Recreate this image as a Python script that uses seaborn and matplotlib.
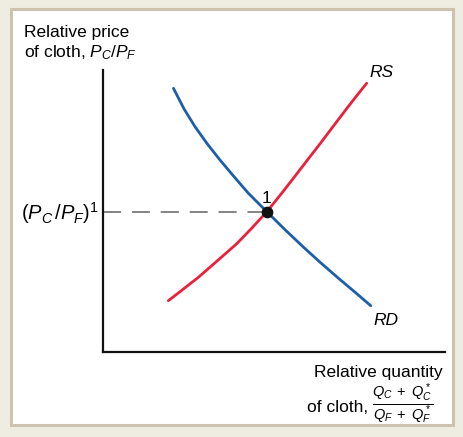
import matplotlib
matplotlib.use("Agg")
import matplotlib.pyplot as plt
from matplotlib.patches import Rectangle
import pandas as pd
import seaborn as sns

# Relative demand (RD) and relative supply (RS) curves
rd_quantity = [2.06, 2.37, 2.69, 3.05, 3.42, 3.83, 4.25, 4.79,
               5.32, 5.86, 6.35, 6.88, 7.37, 7.83]
rd_price = [9.35, 8.62, 7.99, 7.38, 6.81, 6.22, 5.63, 4.975,
            4.34, 3.72, 3.18, 2.62, 2.12, 1.64]
rs_quantity = [1.91, 2.20, 2.79, 3.33, 3.91, 4.35, 4.79, 5.18,
               5.56, 5.96, 6.35, 6.73, 7.08, 7.40, 7.71]
rs_price = [1.82, 2.09, 2.65, 3.22, 3.84, 4.39, 4.975, 5.56,
            6.15, 6.78, 7.39, 8.00, 8.56, 9.06, 9.53]
eq_quantity = 4.79
eq_price = 4.975

sns.set_theme(style="white")
plt.rcParams["font.family"] = ["Liberation Sans", "DejaVu Sans"]
plt.rcParams["text.color"] = "black"
plt.rcParams["mathtext.fontset"] = "custom"
plt.rcParams["mathtext.rm"] = "Liberation Sans"
plt.rcParams["mathtext.it"] = "Liberation Sans:italic"
plt.rcParams["mathtext.sf"] = "Liberation Sans"

W, H = 463, 437
fig = plt.figure(figsize=(W / 100, H / 100), dpi=100, facecolor="#efece1")

# white panel with tan border
fig.patches.append(Rectangle((11 / W, 1 - 425 / H), 442 / W, 416 / H,
                             transform=fig.transFigure, facecolor="white",
                             edgecolor="#cdc3b0", linewidth=2.2, zorder=-10))

x0, x1, y0, y1 = 103, 445, 70, 352
ax = fig.add_axes([x0 / W, 1 - y1 / H, (x1 - x0) / W, (y1 - y0) / H], zorder=5)
ax.set_facecolor("none")
ax.patch.set_alpha(0)
ax.set_xlim(0, 10)
ax.set_ylim(0, 10)

rd = pd.DataFrame({"q": rd_quantity, "p": rd_price})
rs = pd.DataFrame({"q": rs_quantity, "p": rs_price})
sns.lineplot(data=rd, x="q", y="p", sort=False, color="#1d5ea8", linewidth=2.0, ax=ax)
sns.lineplot(data=rs, x="q", y="p", sort=False, color="#e8213c", linewidth=2.0, ax=ax)

ax.plot([0, eq_quantity], [eq_price, eq_price], color="#7a7a7a", linewidth=1.3,
        dashes=(10, 6), zorder=1)
ax.scatter([eq_quantity], [eq_price], s=55, color="#111111", zorder=5)

for side in ["top", "right"]:
    ax.spines[side].set_visible(False)
for side in ["left", "bottom"]:
    ax.spines[side].set_visible(True)
    ax.spines[side].set_color("#111111")
    ax.spines[side].set_linewidth(1.6)
ax.set_xticks([])
ax.set_yticks([])
ax.set_xlabel("")
ax.set_ylabel("")

fs = 12.5
ax.text(eq_quantity, eq_price + 0.22, "1", ha="center", va="bottom", fontsize=fs)
ax.text(7.8, 9.65, "RS", ha="left", va="bottom", fontsize=fs, style="italic")
ax.text(7.9, 1.4, "RD", ha="left", va="top", fontsize=fs, style="italic")

fig.text(24 / W, 1 - 25 / H, "Relative price\nof cloth, $P_C/P_F$", ha="left",
         va="top", fontsize=fs, linespacing=1.2)
fig.text(99 / W, 1 - 213 / H, r"$(P_C\,/P_F)^1$", ha="right", va="center",
         fontsize=14.5)
fig.text(443 / W, 1 - 372 / H, "Relative quantity", ha="right", va="center", fontsize=fs)
fig.text(368 / W, 1 - 407 / H, "of cloth,", ha="right", va="center", fontsize=fs)
fig.text(372 / W, 1 - 404 / H, r"$\frac{Q_C\;+\;Q^*_C}{Q_F\;+\;Q^*_F}$", ha="left",
         va="center", fontsize=15)

fig.savefig("out.png", dpi=100, facecolor=fig.get_facecolor())
